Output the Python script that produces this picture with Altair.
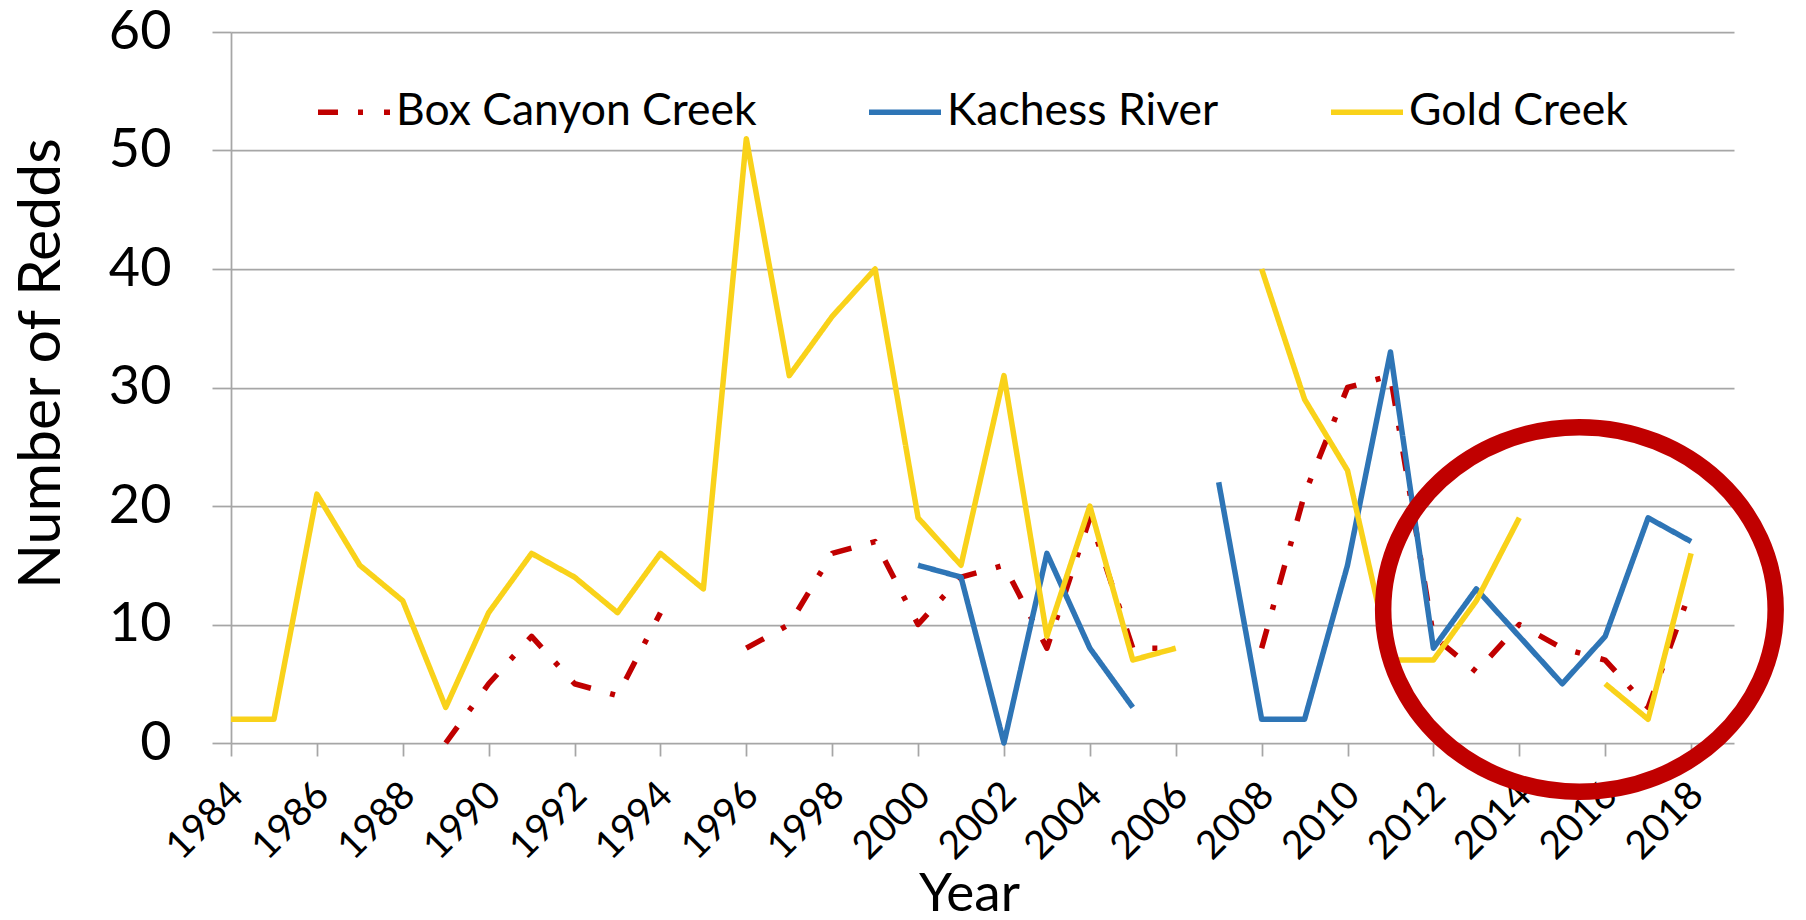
import altair as alt
import pandas as pd

# ---- data ----
years = list(range(1984, 2019))
series_names = ["Box Canyon Creek", "Kachess River", "Gold Creek"]
box_canyon = [None] * 5 + [0, 5, 9, 5, 4, 11, None, 8, 10, 16, 17, 10, 14, 15, 8, 19,
                           8, 8, None, 8, 21, 30, 31, 9, 6, 10, 8, 7, 3, 13]
kachess = [None] * 16 + [15, 14, 0, 16, 8, 3, None, 22, 2, 2, 15, 33, 8, 13, 9, 5, 9, 19, 17]
gold = [2, 2, 21, 15, 12, 3, 11, 16, 14, 11, 16, 13, 51, 31, 36, 40, 19, 15, 31, 9,
        20, 7, 8, None, 40, 29, 23, 7, 7, 12, 19, None, 5, 2, 16]
x_tick_values = list(range(1984, 2019, 2))
y_tick_values = [0, 10, 20, 30, 40, 50, 60]

# annotation ellipse centre (data units)
ellipse_year = [2015.4]
ellipse_value = [11.27]

# ---- styling ----
colors = ["#C00000", "#2E75B6", "#F9D21A"]
dashes = [[20, 20, 5, 21], [1, 0], [1, 0]]
GRID = "#A6A6A6"
FONT = "Lato"

rows = []
for name, vals in zip(series_names, [box_canyon, kachess, gold]):
    seg = 0
    for yr, v in zip(years, vals):
        if v is None:
            seg += 1
            continue
        rows.append({"year": yr, "value": v, "series": name, "seg": f"{name}-{seg}"})
df = pd.DataFrame(rows)

k = 0.5523
r = 0.929
ellipse_path = (
    f"M1,0 C1,{k*r:.4f} {k:.4f},{r} 0,{r} "
    f"C{-k:.4f},{r} -1,{k*r:.4f} -1,0 "
    f"C-1,{-k*r:.4f} {-k:.4f},{-r} 0,{-r} "
    f"C{k:.4f},{-r} 1,{-k*r:.4f} 1,0 Z"
)

x_enc = alt.X(
    "year:Q",
    scale=alt.Scale(domain=[1984, 2019], nice=False, zero=False),
    axis=alt.Axis(
        values=x_tick_values, format="d", labelAngle=315, labelFlush=False,
        labelOverlap=False, tickSize=13, tickColor=GRID, tickWidth=1.75,
        labelPadding=19, labelOffset=-8, grid=False, domain=False,
        labelFont=FONT, labelFontSize=39, labelColor="black",
        title="Year", titleFont=FONT, titleFontSize=53, titleFontWeight="normal",
        titleColor="black", titleX=738, titleY=167, titleAlign="center",
        titleBaseline="alphabetic",
    ),
)
y_enc = alt.Y(
    "value:Q",
    scale=alt.Scale(domain=[0, 60], nice=False),
    axis=alt.Axis(
        values=y_tick_values, labelFlush=False, tickSize=19, tickColor=GRID,
        tickWidth=1.75, domainColor=GRID, domainWidth=1.75, grid=True,
        gridColor=GRID, gridWidth=1.75, labelFont=FONT, labelFontSize=54,
        labelColor="black", labelPadding=41,
        title="Number of Redds", titleFont=FONT, titleFontSize=59,
        titleFontWeight="normal", titleColor="black", titleAngle=270,
        titleX=-172, titleY=331, titleAlign="center", titleBaseline="alphabetic",
    ),
)

legend = alt.Legend(
    orient="none", legendX=84, legendY=41, direction="horizontal", title=None,
    symbolType="stroke", symbolSize=5184, symbolStrokeWidth=5.5,
    labelFont=FONT, labelFontSize=44.5, labelColor="black", labelOffset=3,
    labelLimit=600, columnPadding=101, padding=0,
)

lines = alt.Chart(df).mark_line(strokeWidth=5.5, strokeCap="butt", strokeJoin="round").encode(
    x=x_enc,
    y=y_enc,
    color=alt.Color("series:N", scale=alt.Scale(domain=series_names, range=colors), legend=legend),
    strokeDash=alt.StrokeDash("series:N", scale=alt.Scale(domain=series_names, range=dashes), legend=legend),
    detail="seg:N",
    order="year:Q",
)

ell_df = pd.DataFrame({"year": ellipse_year, "value": ellipse_value})
ellipse = alt.Chart(ell_df).mark_point(
    shape=ellipse_path, size=392.5 ** 2, filled=False, color="#C00000",
    strokeWidth=16.5, opacity=1,
).encode(x="year:Q", y="value:Q")

chart = alt.layer(lines, ellipse).properties(
    width=1503, height=711,
    autosize=alt.AutoSizeParams(type="none"),
    padding={"left": 223, "top": 24, "right": 64, "bottom": 169},
    background="white",
).configure_view(stroke=None)

chart.save("out.html", embed_options={"renderer": "svg", "actions": False})
